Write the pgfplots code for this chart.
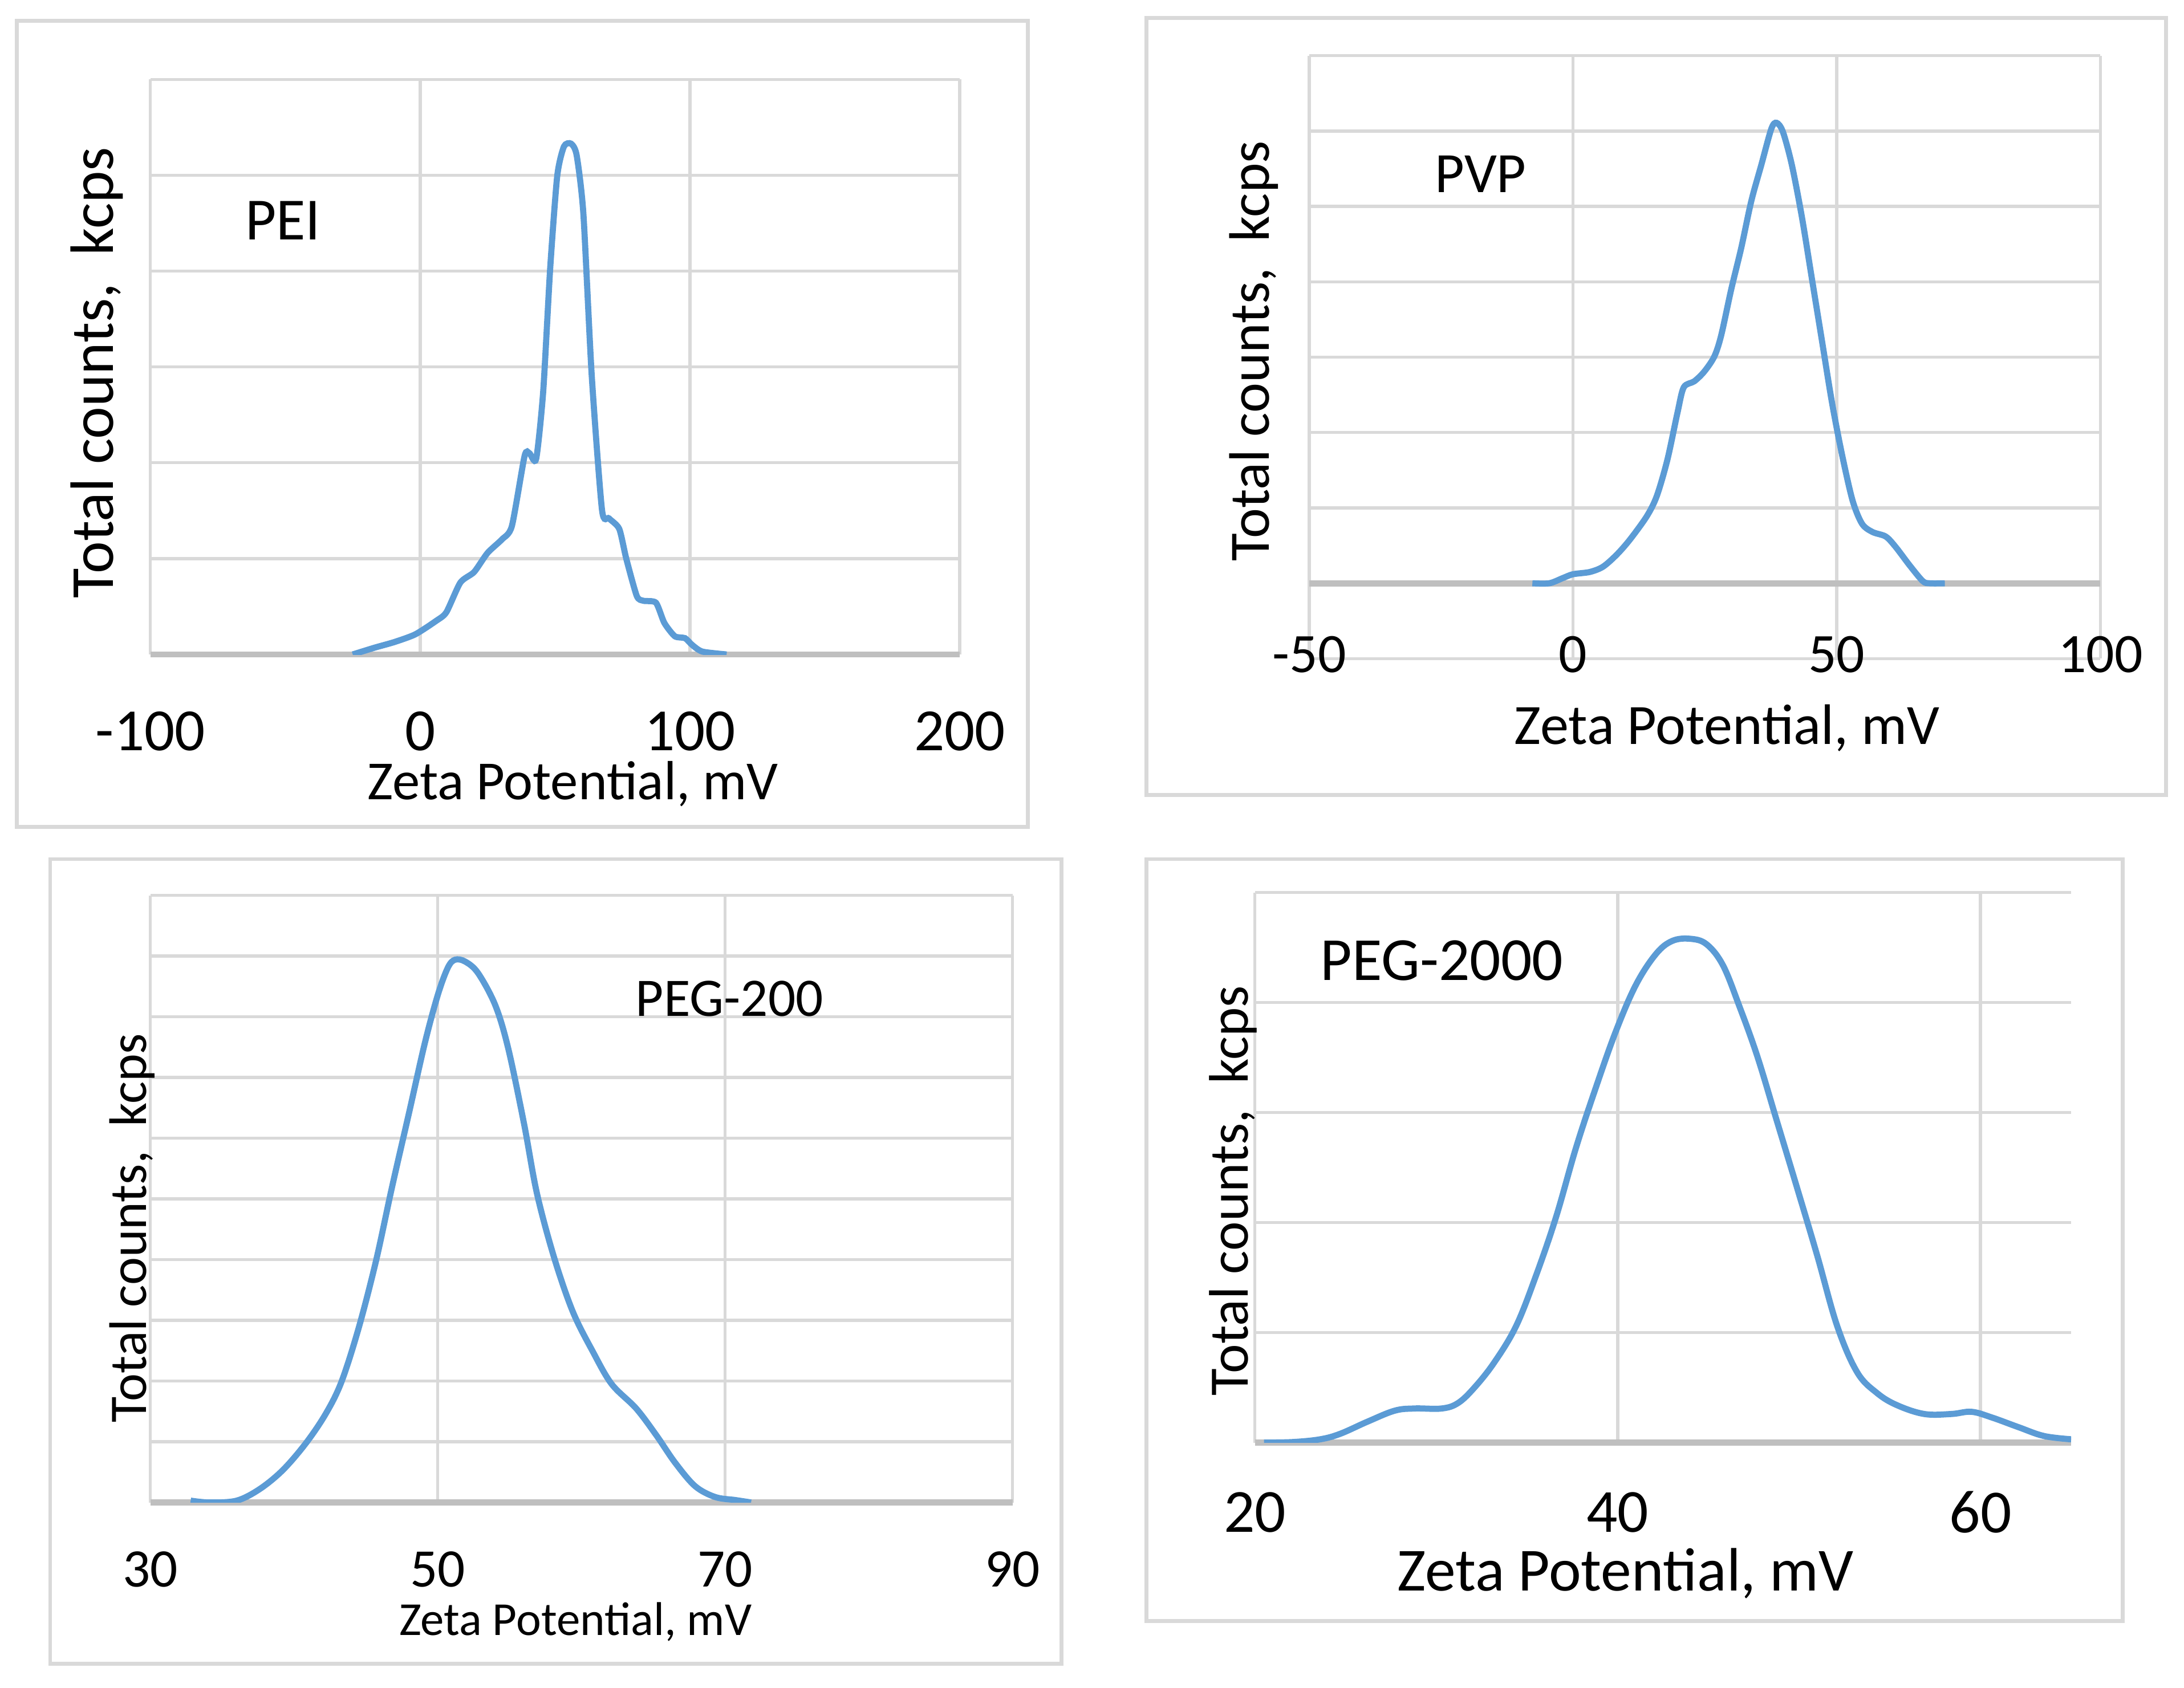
\documentclass[border=0pt]{standalone}
\usepackage{pgfplots}
\pgfplotsset{compat=1.18}
\usepackage{fontspec}
\setmainfont{Carlito}
\definecolor{exblue}{HTML}{5B9BD5}
\definecolor{gridc}{HTML}{D9D9D9}
\definecolor{axc}{HTML}{BFBFBF}
\pgfplotsset{zp/.style={
  scale only axis,
  axis line style={draw=none},
  tick style={draw=none},
  grid=major,
  major grid style={gridc, line width=0.55pt},
  yticklabels={},
  extra y ticks={0},
  extra y tick labels={},
  extra y tick style={major grid style={axc, line width=1.1pt}},
  /pgf/number format/assume math mode=true,
  xticklabel style={anchor=center},
  ylabel style={anchor=center},
  xlabel style={anchor=center},
},
zl/.style={draw=exblue, line width=1.1pt, no marks, smooth, tension=#1}}
\begin{document}
\begin{tikzpicture}
\useasboundingbox[fill=white] (0,0) rectangle (392pt,303pt);
\draw[gridc, line width=0.7pt] (3pt,154.5pt) rectangle (184.5pt,299.25pt);
\draw[gridc, line width=0.7pt] (205.75pt,160.25pt) rectangle (388.75pt,299.75pt);
\draw[gridc, line width=0.7pt] (9pt,4.25pt) rectangle (190.5pt,148.75pt);
\draw[gridc, line width=0.7pt] (205.75pt,12pt) rectangle (381pt,148.75pt);

% PEI
\begin{axis}[zp, at={(27pt,185.5pt)}, anchor=south west,
  width=145.25pt, height=103.25pt,
  xmin=-100, xmax=200, ymin=0, ymax=6,
  xtick={-100,0,100,200}, ytick={0,1,2,3,4,5,6},
  xticklabel style={yshift=-13.75pt, font=\fontsize{10.75}{12}\selectfont},
  xlabel={Zeta Potential, mV},
  xlabel style={at={(axis description cs:0.522,-0.225)}, font=\fontsize{9.9}{12}\selectfont},
  ylabel={Total counts,\ \ kcps},
  ylabel style={at={(axis description cs:-0.066,0.49)}, font=\fontsize{11}{13}\selectfont},
]
\addplot[zl=0.4] coordinates {
(-25,0) (-17,0.07) (-9.5,0.13) (-1.8,0.21) (5.9,0.35) (9.7,0.44) (14.9,0.75)
(20,0.86) (25,1.06) (30.3,1.20) (34,1.34) (38.7,2.07) (40.5,2.10) (43,2.04)
(45.6,2.74) (48.2,4.03) (50.8,4.99) (53.3,5.30) (55.9,5.33) (58,5.21) (60.5,4.60)
(63.6,2.91) (67.4,1.51) (70,1.42) (73.8,1.31) (76.4,1.0) (80.3,0.61) (82.8,0.56)
(87.4,0.54) (90.5,0.33) (94.4,0.19) (98.2,0.17) (100.8,0.10) (104.6,0.03) (113.6,0)
};
\node[font=\fontsize{10.75}{13}\selectfont] at (axis cs:-50.9,4.53) {PEI};
\end{axis}

% PVP
\begin{axis}[zp, at={(235pt,184.75pt)}, anchor=south west,
  width=142pt, height=108.25pt,
  xmin=-50, xmax=100, ymin=-1, ymax=7,
  xtick={-50,0,50,100}, ytick={-1,0,1,2,3,4,5,6,7},
  xticklabel style={yshift=0.75pt, font=\fontsize{10}{12}\selectfont},
  xlabel={Zeta Potential, mV},
  xlabel style={at={(axis description cs:0.528,-0.115)}, font=\fontsize{10.25}{12}\selectfont},
  ylabel={Total counts,\ \ kcps},
  ylabel style={at={(axis description cs:-0.070,0.51)}, font=\fontsize{10.25}{12}\selectfont},
]
\addplot[zl=0.5] coordinates {
(-7.7,0) (-4.5,0) (-1.9,0.07) (0,0.12) (3.2,0.15) (5.7,0.22) (8.3,0.38) (10.8,0.58)
(14,0.89) (15.9,1.16) (17.9,1.64) (19.8,2.26) (21,2.60) (23,2.68) (24.9,2.81)
(26.8,3.01) (28.1,3.29) (30,3.90) (31.9,4.45) (33.8,5.07) (35.7,5.55) (37.6,6.03)
(38.6,6.11) (39.8,5.99) (41.5,5.55) (43.4,4.86) (45.3,4.04) (47.2,3.22) (49.1,2.40)
(51,1.71) (53,1.10) (54.8,0.79) (56.8,0.68) (59.3,0.62) (61.2,0.48) (63.8,0.24)
(66.3,0.03) (67.6,0) (70.5,0)
};
\node[font=\fontsize{10.25}{12}\selectfont] at (axis cs:-17.5,5.43) {PVP};
\end{axis}

% PEG-200
\begin{axis}[zp, at={(27pt,33.25pt)}, anchor=south west,
  width=154.75pt, height=109pt,
  xmin=30, xmax=90, ymin=0, ymax=10,
  xtick={30,50,70,90}, ytick={0,1,...,10},
  xticklabel style={yshift=-12pt, font=\fontsize{9.75}{12}\selectfont},
  xlabel={Zeta Potential, mV},
  xlabel style={at={(axis description cs:0.493,-0.197)}, font=\fontsize{8.5}{10}\selectfont},
  ylabel={Total counts,\ \ kcps},
  ylabel style={at={(axis description cs:-0.021,0.452)}, font=\fontsize{9.5}{11}\selectfont},
]
\addplot[zl=0.55] coordinates {
(32.8,0.03) (34.1,0) (36,0.03) (37.6,0.22) (39.2,0.53) (40.8,0.97) (42.2,1.46)
(43.3,1.99) (44.5,2.88) (45.7,3.98) (46.8,5.18) (48,6.42) (49.1,7.57) (50,8.36)
(50.7,8.81) (51.2,8.94) (51.9,8.91) (52.8,8.72) (54,8.19) (54.9,7.48) (56,6.24)
(56.9,5.09) (58.1,4.03) (59.4,3.14) (60.8,2.48) (62.1,1.95) (63.8,1.55) (65.2,1.11)
(66.5,0.66) (67.9,0.27) (69.3,0.09) (70.7,0.04) (71.8,0)
};
\node[font=\fontsize{9.75}{12}\selectfont] at (axis cs:70.3,8.30) {PEG-200};
\end{axis}

% PEG-2000
\begin{axis}[zp, at={(225.25pt,44pt)}, anchor=south west,
  width=146.5pt, height=98.75pt,
  xmin=20, xmax=65, ymin=0, ymax=5,
  xtick={20,40,60}, ytick={0,1,2,3,4,5},
  xticklabel style={yshift=-12.5pt, font=\fontsize{11}{13}\selectfont},
  xlabel={Zeta Potential, mV},
  xlabel style={at={(axis description cs:0.454,-0.238)}, font=\fontsize{11}{13}\selectfont},
  ylabel={Total counts,\ \ kcps},
  ylabel style={at={(axis description cs:-0.027,0.458)}, font=\fontsize{10}{12}\selectfont},
]
\addplot[zl=0.6] coordinates {
(20.5,0) (22.1,0.005) (23.6,0.03) (24.7,0.08) (26.2,0.19) (27.7,0.29) (28.8,0.31)
(30.3,0.31) (31.2,0.36) (32.1,0.50) (33.2,0.73) (34.4,1.06) (35.5,1.52) (36.6,2.05)
(37.7,2.68) (38.8,3.23) (39.9,3.74) (41,4.16) (42.1,4.44) (43,4.56) (44,4.58)
(44.9,4.53) (45.8,4.34) (46.7,3.97) (47.7,3.51) (48.8,2.91) (49.9,2.31) (51,1.70)
(52.1,1.06) (53.2,0.64) (54.3,0.45) (55.4,0.34) (56.9,0.26) (58.4,0.26) (59.5,0.28)
(60.6,0.23) (62.1,0.14) (63.5,0.06) (65,0.03)
};
\node[font=\fontsize{11}{13}\selectfont] at (axis cs:30.3,4.38) {PEG-2000};
\end{axis}
\end{tikzpicture}
\end{document}
